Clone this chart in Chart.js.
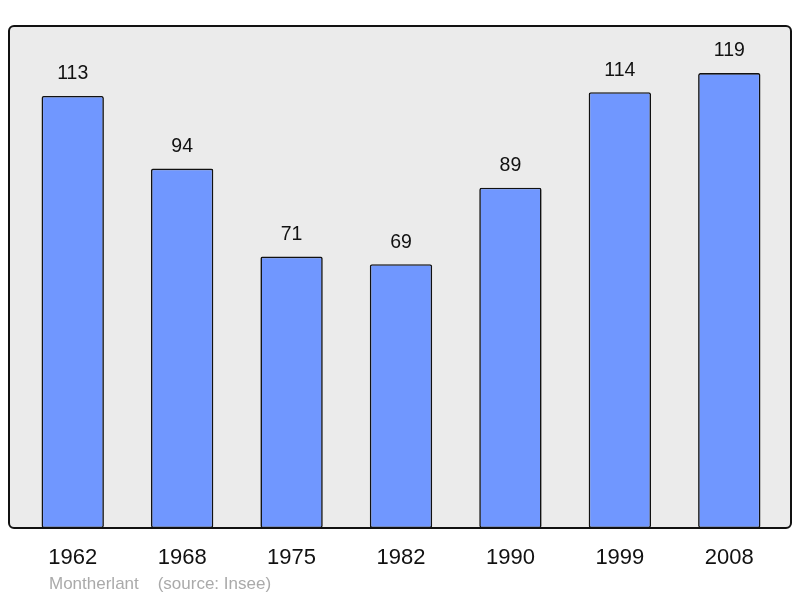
<!DOCTYPE html>
<html>
<head>
<meta charset="utf-8">
<script src="https://cdn.jsdelivr.net/npm/chart.js@4"></script>
<style>
  html, body { margin: 0; padding: 0; background: #fff; }
  #wrap { width: 800px; height: 598px; }
</style>
</head>
<body>
<div id="wrap"><canvas id="popChart" width="800" height="598"></canvas></div>
<script>
const years = ["1962", "1968", "1975", "1982", "1990", "1999", "2008"]
const population = [113, 94, 71, 69, 89, 114, 119]
const sourceText = "Montherlant    (source: Insee)"

const FONT = "'Liberation Sans', Arial, sans-serif"

// grey rounded panel behind the bars
const panelPlugin = {
  id: "panel",
  beforeDraw(chart) {
    const { ctx, chartArea } = chart
    const x = chartArea.left - 9, y = chartArea.top
    const w = chartArea.right - chartArea.left + 16, h = chartArea.bottom - chartArea.top
    ctx.save()
    ctx.beginPath()
    ctx.roundRect(x, y, w, h, 5)
    ctx.fillStyle = "#ebebeb"
    ctx.fill()
    ctx.restore()
  },
  afterDatasetsDraw(chart) {
    const { ctx, chartArea } = chart
    const x = chartArea.left - 9, y = chartArea.top
    const w = chartArea.right - chartArea.left + 16, h = chartArea.bottom - chartArea.top
    ctx.save()
    ctx.beginPath()
    ctx.roundRect(x, y, w, h, 5)
    ctx.lineWidth = 2
    ctx.strokeStyle = "#111"
    ctx.stroke()

    // value labels above bars
    const meta = chart.getDatasetMeta(0)
    ctx.fillStyle = "#111"
    ctx.font = "19.5px " + FONT
    ctx.textAlign = "center"
    ctx.textBaseline = "middle"
    meta.data.forEach((bar, i) => {
      ctx.fillText(String(population[i]), bar.x, bar.y - 22)
    })

    // source line
    ctx.fillStyle = "#aaaaaa"
    ctx.font = "17px " + FONT
    ctx.textAlign = "left"
    ctx.fillText(sourceText, 49, 584)
    ctx.restore()
  }
}

new Chart(document.getElementById("popChart"), {
  type: "bar",
  data: {
    labels: years,
    datasets: [
      {
        data: population,
        backgroundColor: "#7097ff",
        borderColor: "#111",
        borderWidth: 1.6,
        borderRadius: 2,
        borderSkipped: false,
        categoryPercentage: 1,
        barPercentage: 0.57,
      },
    ],
  },
  options: {
    responsive: false,
    animation: false,
    layout: {
      padding: { left: 18, right: 16, top: 26, bottom: 0 },
    },
    plugins: {
      legend: { display: false },
      tooltip: { enabled: false },
    },
    scales: {
      y: {
        display: false,
        min: 0,
        max: 131.3,
      },
      x: {
        grid: { display: false, drawTicks: false },
        border: { display: false },
        ticks: {
          padding: 17,
          color: "#111",
          font: { family: FONT, size: 22 },
        },
        afterFit(scale) {
          scale.height = 70
        },
      },
    },
  },
  plugins: [panelPlugin],
})
</script>
</body>
</html>
